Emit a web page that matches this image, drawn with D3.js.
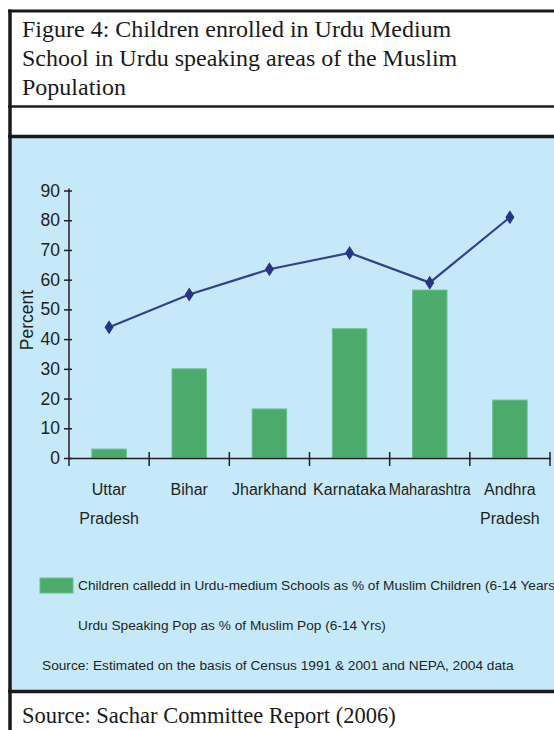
<!DOCTYPE html>
<html>
<head>
<meta charset="utf-8">
<script src="https://cdn.jsdelivr.net/npm/d3@7"></script>
<style>
  html, body { margin: 0; padding: 0; background: #fff; }
  svg { display: block; }
</style>
</head>
<body>
<div id="chart"></div>
<script>
// chart data
var states = ["Uttar Pradesh", "Bihar", "Jharkhand", "Karnataka", "Maharashtra", "Andhra Pradesh"];
var stateLines = [["Uttar", "Pradesh"], ["Bihar"], ["Jharkhand"], ["Karnataka"], ["Maharashtra"], ["Andhra", "Pradesh"]];
var enrolled = [3, 30, 16.5, 43.5, 56.5, 19.5];
var urduSpeaking = [44, 55, 63.5, 69, 59, 81];
var yTicks = [0, 10, 20, 30, 40, 50, 60, 70, 80, 90];
var titleLines = ["Figure 4: Children enrolled in Urdu Medium",
                  "School in Urdu speaking areas of the Muslim",
                  "Population"];
var legendBar = "Children calledd in Urdu-medium Schools as % of Muslim Children (6-14 Years)";
var legendLine = "Urdu Speaking Pop as % of Muslim Pop (6-14 Yrs)";
var noteText = "Source: Estimated on the basis of Census 1991 & 2001 and NEPA, 2004 data";
var sourceText = "Source: Sachar Committee Report (2006)";

var svgWidth = 554;
var svgHeight = 730;
var sans = "Arial, 'Liberation Sans', sans-serif";
var serif = "'Liberation Serif', 'Times New Roman', serif";

var svg = d3.select("#chart")
    .append("svg")
    .attr("width", svgWidth)
    .attr("height", svgHeight);

// frame of the figure box
svg.append("rect").attr("x", 0).attr("y", 0).attr("width", svgWidth).attr("height", svgHeight).attr("fill", "#fff");
svg.append("rect").attr("x", 10).attr("y", 138).attr("width", 560).attr("height", 552).attr("fill", "#c6e9f9");
svg.append("line").attr("x1", 8).attr("x2", 560).attr("y1", 11).attr("y2", 11).attr("stroke", "#1a1a1a").attr("stroke-width", 3);
svg.append("line").attr("x1", 8).attr("x2", 560).attr("y1", 106.5).attr("y2", 106.5).attr("stroke", "#1a1a1a").attr("stroke-width", 2.5);
svg.append("line").attr("x1", 8).attr("x2", 560).attr("y1", 136.5).attr("y2", 136.5).attr("stroke", "#1a1a1a").attr("stroke-width", 3.5);
svg.append("line").attr("x1", 8).attr("x2", 560).attr("y1", 691.5).attr("y2", 691.5).attr("stroke", "#1a1a1a").attr("stroke-width", 3.5);
svg.append("line").attr("x1", 10).attr("x2", 10).attr("y1", 9.5).attr("y2", 730).attr("stroke", "#1a1a1a").attr("stroke-width", 3.5);

// title
svg.append("g").selectAll("text")
    .data(titleLines)
    .enter()
    .append("text")
    .attr("x", 22)
    .attr("y", (d, i) => 37 + i * 29)
    .attr("font-family", serif)
    .attr("font-size", "24px")
    .attr("fill", "#1a1a1a")
    .text(d => d);

svg.append("text")
    .attr("x", 22)
    .attr("y", 723)
    .attr("font-family", serif)
    .attr("font-size", "22.5px")
    .attr("fill", "#1a1a1a")
    .text(sourceText);

// scales
var x = d3.scaleBand().domain(states).range([69, 550]).padding(0);
var y = d3.scaleLinear().domain([0, 90]).range([458, 190.5]);
var barW = x.bandwidth() * 0.43;

var chart = svg.append("g");

// bars
chart.selectAll(".bar")
    .data(states)
    .enter()
    .append("rect")
    .attr("class", "bar")
    .attr("x", (d) => x(d) + x.bandwidth() / 2 - barW / 2)
    .attr("width", barW)
    .attr("y", (d, i) => y(enrolled[i]))
    .attr("height", (d, i) => y(0) - y(enrolled[i]))
    .attr("fill", "#4caa6d")
    .attr("stroke", "#6cc08a")
    .attr("stroke-width", 1);

// y axis
var leftAxis = d3.axisLeft(y).tickValues(yTicks).tickSize(5).tickSizeOuter(0).tickPadding(4);
var yAxis = chart.append("g").attr("transform", "translate(69,0)").call(leftAxis);
yAxis.select(".domain").remove();
yAxis.append("line").attr("x1", 0).attr("x2", 0).attr("y1", y(90) - 2).attr("y2", y(0) + 8).attr("stroke", "#231f20").attr("stroke-width", 1.5);
yAxis.selectAll(".tick line").attr("x1", 3).attr("x2", -5).attr("stroke", "#231f20").attr("stroke-width", 1.5);
yAxis.selectAll(".tick text")
    .attr("x", -9)
    .attr("font-family", sans)
    .attr("font-size", "17.5px")
    .attr("fill", "#231f20");

// x axis
var bottomAxis = d3.axisBottom(x).tickSize(0).tickFormat("");
var xAxis = chart.append("g").attr("transform", "translate(0," + y(0) + ")").call(bottomAxis);
xAxis.select(".domain").attr("stroke", "#231f20").attr("stroke-width", 1.5);
var edges = states.map(d => x(d)).concat([x(states[states.length - 1]) + x.bandwidth()]).slice(1);
xAxis.selectAll(".edge")
    .data(edges)
    .enter()
    .append("line")
    .attr("x1", d => d).attr("x2", d => d)
    .attr("y1", -6).attr("y2", 8)
    .attr("stroke", "#231f20").attr("stroke-width", 1.5);

// category labels
var labels = chart.selectAll(".cat")
    .data(states)
    .enter()
    .append("text")
    .attr("class", "cat")
    .attr("text-anchor", "middle")
    .attr("font-family", sans)
    .attr("font-size", "16px")
    .attr("fill", "#231f20");
labels.each(function(d, i) {
    var t = d3.select(this);
    var cx = x(d) + x.bandwidth() / 2;
    stateLines[i].forEach(function(line, j) {
        var ts = t.append("tspan")
            .attr("x", cx)
            .attr("y", 495 + j * 29)
            .text(line);
        if (line === "Maharashtra") ts.attr("textLength", 82).attr("lengthAdjust", "spacingAndGlyphs");
    });
});

// line series
var line = d3.line()
    .x((d, i) => x(states[i]) + x.bandwidth() / 2)
    .y(d => y(d));
chart.append("path")
    .datum(urduSpeaking)
    .attr("d", line)
    .attr("fill", "none")
    .attr("stroke", "#34418f")
    .attr("stroke-width", 2.2);
chart.selectAll(".marker")
    .data(urduSpeaking)
    .enter()
    .append("path")
    .attr("class", "marker")
    .attr("d", "M0,-7 L4.5,0 L0,7 L-4.5,0 Z")
    .attr("transform", (d, i) => "translate(" + (x(states[i]) + x.bandwidth() / 2) + "," + y(d) + ")")
    .attr("fill", "#29338a");

// y label
chart.append("text")
    .attr("transform", "translate(33,320) rotate(-90)")
    .attr("text-anchor", "middle")
    .attr("font-family", sans)
    .attr("font-size", "17.5px")
    .attr("fill", "#231f20")
    .text("Percent");

// legend (the first entry runs past the right edge, as in the original)
var legend = svg.append("g").attr("font-family", sans).attr("font-size", "13.7px").attr("fill", "#231f20");
legend.append("rect").attr("x", 40).attr("y", 578).attr("width", 33).attr("height", 15).attr("fill", "#4caa6d").attr("stroke", "#6cc08a");
legend.append("text").attr("x", 78).attr("y", 590).text(legendBar);
legend.append("text").attr("x", 78).attr("y", 630).text(legendLine);
legend.append("text").attr("x", 42).attr("y", 670).text(noteText);
</script>
</body>
</html>
